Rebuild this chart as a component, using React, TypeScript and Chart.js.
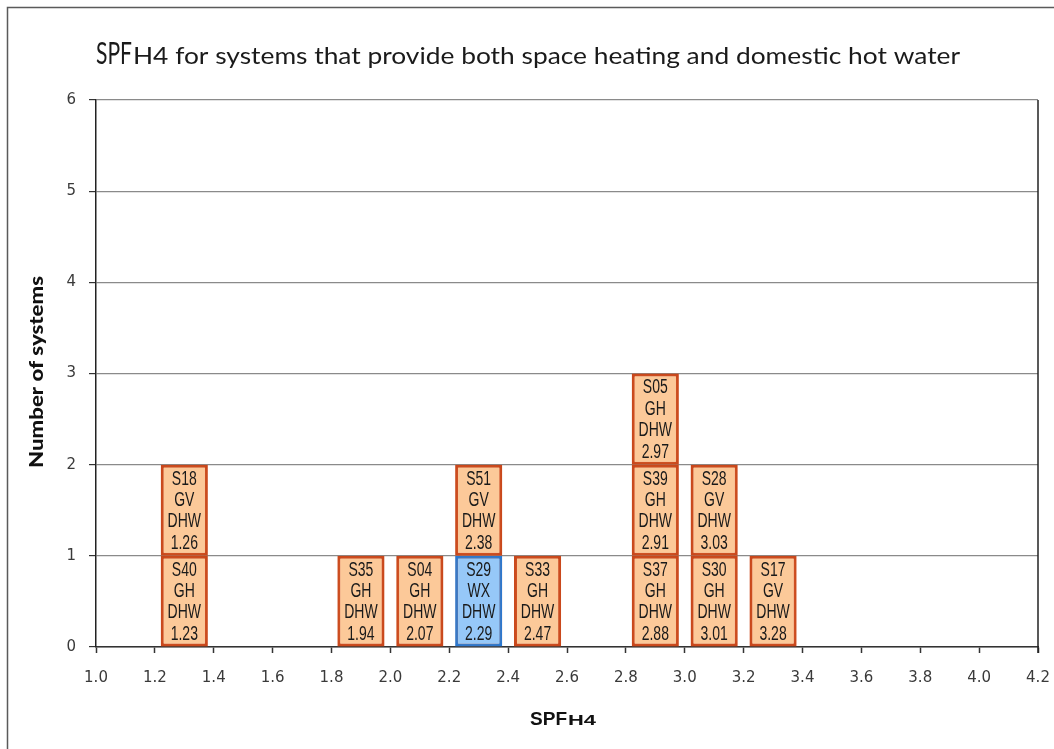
import React, { useEffect, useRef } from "react";
import { Chart, registerables } from "chart.js";

Chart.register(...registerables);

// ---- data ----
const systemIds = ["S40", "S18", "S35", "S04", "S29", "S51", "S33", "S37", "S39", "S05", "S30", "S28", "S17"];
const systemTypes = ["GH", "GV", "GH", "GH", "WX", "GV", "GH", "GH", "GH", "GH", "GH", "GV", "GV"];
const systemUse = ["DHW", "DHW", "DHW", "DHW", "DHW", "DHW", "DHW", "DHW", "DHW", "DHW", "DHW", "DHW", "DHW"];
const spfValues = [1.23, 1.26, 1.94, 2.07, 2.29, 2.38, 2.47, 2.88, 2.91, 2.97, 3.01, 3.03, 3.28];
const highlighted = ["S29"];
const binWidth = 0.2;
const xMin = 1.0;
const xMax = 4.2;
const yMax = 6;

const titleMain = "SPF";
const titleSub = "H4 for systems that provide both space heating and domestic hot water";
const xTitleMain = "SPF";
const xTitleSub = "H4";
const yTitle = "Number of systems";

// histogram stacking: each system becomes one unit box in its bin
function buildBoxes() {
  const counts: Record<string, number> = {};
  const order = spfValues.map((v, i) => i).sort((a, b) => spfValues[a] - spfValues[b]);
  const boxes: { x: number; y: [number, number]; idx: number }[] = [];
  order.forEach((i) => {
    const bin = Math.floor(spfValues[i] / binWidth + 1e-9);
    const key = String(bin);
    const level = counts[key] || 0;
    counts[key] = level + 1;
    boxes.push({ x: +(bin * binWidth + binWidth / 2).toFixed(2), y: [level, level + 1], idx: i });
  });
  return boxes;
}

const ORANGE_FILL = "#fcc999";
const ORANGE_EDGE = "#c8461a";
const BLUE_FILL = "#96c8f8";
const BLUE_EDGE = "#2478d4";

function drawFit(ctx: CanvasRenderingContext2D, text: string, x: number, y: number, font: string, target: number) {
  ctx.save();
  ctx.font = font;
  const w = ctx.measureText(text).width;
  ctx.translate(x, y);
  ctx.scale(target / w, 1);
  ctx.fillText(text, 0, 0);
  ctx.restore();
  return target;
}

const decorPlugin = {
  id: "decor",
  beforeDraw(chart: any) {
    const ctx = chart.ctx as CanvasRenderingContext2D;
    ctx.save();
    ctx.fillStyle = "#ffffff";
    ctx.fillRect(0, 0, chart.width, chart.height);
    ctx.strokeStyle = "#5a5a5a";
    ctx.lineWidth = 1.5;
    ctx.beginPath();
    ctx.moveTo(7.5, chart.height + 2);
    ctx.lineTo(7.5, 7.5);
    ctx.lineTo(chart.width + 2, 7.5);
    ctx.stroke();
    ctx.restore();
  },
  beforeDatasetsDraw(chart: any) {
    const ctx = chart.ctx as CanvasRenderingContext2D;
    ctx.save();
    ctx.shadowColor = "rgba(235,130,80,0.45)";
    ctx.shadowBlur = 4;
  },
  afterDraw(chart: any) {
    const ctx = chart.ctx as CanvasRenderingContext2D;
    const area = chart.chartArea;
    ctx.save();
    // right border of plot
    ctx.strokeStyle = "#222";
    ctx.lineWidth = 1.5;
    ctx.beginPath();
    ctx.moveTo(area.right, area.top);
    ctx.lineTo(area.right, area.bottom + 6);
    ctx.stroke();

    // main title
    ctx.fillStyle = "#1a1a1a";
    ctx.textBaseline = "alphabetic";
    ctx.textAlign = "left";
    const fam = "Lato, 'Open Sans', sans-serif";
    drawFit(ctx, titleMain, 96, 64, `normal 31px ${fam}`, 36);
    drawFit(ctx, titleSub, 133, 64, `normal 24px ${fam}`, 960 - 133);

    // x title
    ctx.fillStyle = "#111";
    drawFit(ctx, xTitleMain, 530, 725, `bold 18px 'Liberation Sans', Arial, sans-serif`, 37);
    drawFit(ctx, xTitleSub, 568, 725, `bold 15px 'Liberation Sans', Arial, sans-serif`, 28);

    // y title
    ctx.translate(37, 372);
    ctx.rotate(-Math.PI / 2);
    ctx.textBaseline = "middle";
    drawFit(ctx, yTitle, -96, 0, `900 19px ${fam}`, 192);
    ctx.restore();
  },
  afterDatasetsDraw(chart: any) {
    const ctx = chart.ctx as CanvasRenderingContext2D;
    ctx.restore(); // end shadow
    const meta = chart.getDatasetMeta(0);
    const raw = chart.data.datasets[0].data as any[];
    ctx.save();
    ctx.fillStyle = "#1a1a1a";
    ctx.textAlign = "center";
    ctx.textBaseline = "middle";
    ctx.font = "20px 'Liberation Sans', Arial, sans-serif";
    meta.data.forEach((el: any, k: number) => {
      const i = raw[k].idx;
      const top = el.y;
      const bottom = el.base;
      const h = bottom - top;
      const cy = (top + bottom) / 2;
      const step = h / 4.25;
      const lines = [systemIds[i], systemTypes[i], systemUse[i], spfValues[i].toFixed(2)];
      lines.forEach((t, j) => {
        ctx.save();
        ctx.translate(el.x, cy + (j - 1.5) * step + 1);
        ctx.scale(0.7, 1);
        ctx.fillText(t, 0, 0);
        ctx.restore();
      });
    });
    ctx.restore();
  },
};

export default function App() {
  const ref = useRef<HTMLCanvasElement | null>(null);
  useEffect(() => {
    if (!ref.current) return;
    const boxes = buildBoxes();
    const isHi = (b: any) => highlighted.includes(systemIds[b.idx]);
    const chart = new Chart(ref.current, {
      type: "bar",
      data: {
        datasets: [
          {
            data: boxes as any,
            backgroundColor: boxes.map((b) => (isHi(b) ? BLUE_FILL : ORANGE_FILL)),
            borderColor: boxes.map((b) => (isHi(b) ? BLUE_EDGE : ORANGE_EDGE)),
            borderWidth: 3,
            borderSkipped: false,
            barPercentage: 0.8,
            categoryPercentage: 1,
          } as any,
        ],
      },
      options: {
        animation: false,
        responsive: false,
        devicePixelRatio: 1,
        layout: { padding: { left: 0, top: 100, right: 16, bottom: 0 } },
        plugins: { legend: { display: false }, tooltip: { enabled: false }, title: { display: false } },
        scales: {
          x: {
            type: "linear",
            offset: false,
            min: xMin,
            max: xMax,
            afterFit: (s: any) => {
              s.height = 102;
              s.paddingLeft = 0;
              s.paddingRight = 0;
            },
            ticks: {
              stepSize: binWidth,
              autoSkip: false,
              maxRotation: 0,
              padding: 16,
              color: "#3a3a3a",
              font: { family: "'DejaVu Sans', Verdana, sans-serif", size: 15 },
              callback: (v: any) => Number(v).toFixed(1),
            },
            grid: { offset: false, drawOnChartArea: false, drawTicks: true, tickLength: 6, tickColor: "#333", tickWidth: 1.5 },
            border: { color: "#333", width: 1.5 },
          },
          y: {
            min: 0,
            max: yMax,
            afterFit: (s: any) => {
              s.width = 96;
              s.paddingTop = 0;
              s.paddingBottom = 0;
            },
            ticks: {
              stepSize: 1,
              padding: 13,
              color: "#3a3a3a",
              font: { family: "'DejaVu Sans', Verdana, sans-serif", size: 15 },
            },
            grid: { color: "#8a8a8a", lineWidth: 1.2, tickLength: 7, tickColor: "#333" },
            border: { color: "#222", width: 1.5 },
          },
        },
      },
      plugins: [decorPlugin],
    });
    return () => chart.destroy();
  }, []);
  return (
    <div style={{ position: "absolute", left: 0, top: 0, width: 1054, height: 749, background: "#fff" }}>
      <canvas ref={ref} width={1054} height={749} />
    </div>
  );
}
